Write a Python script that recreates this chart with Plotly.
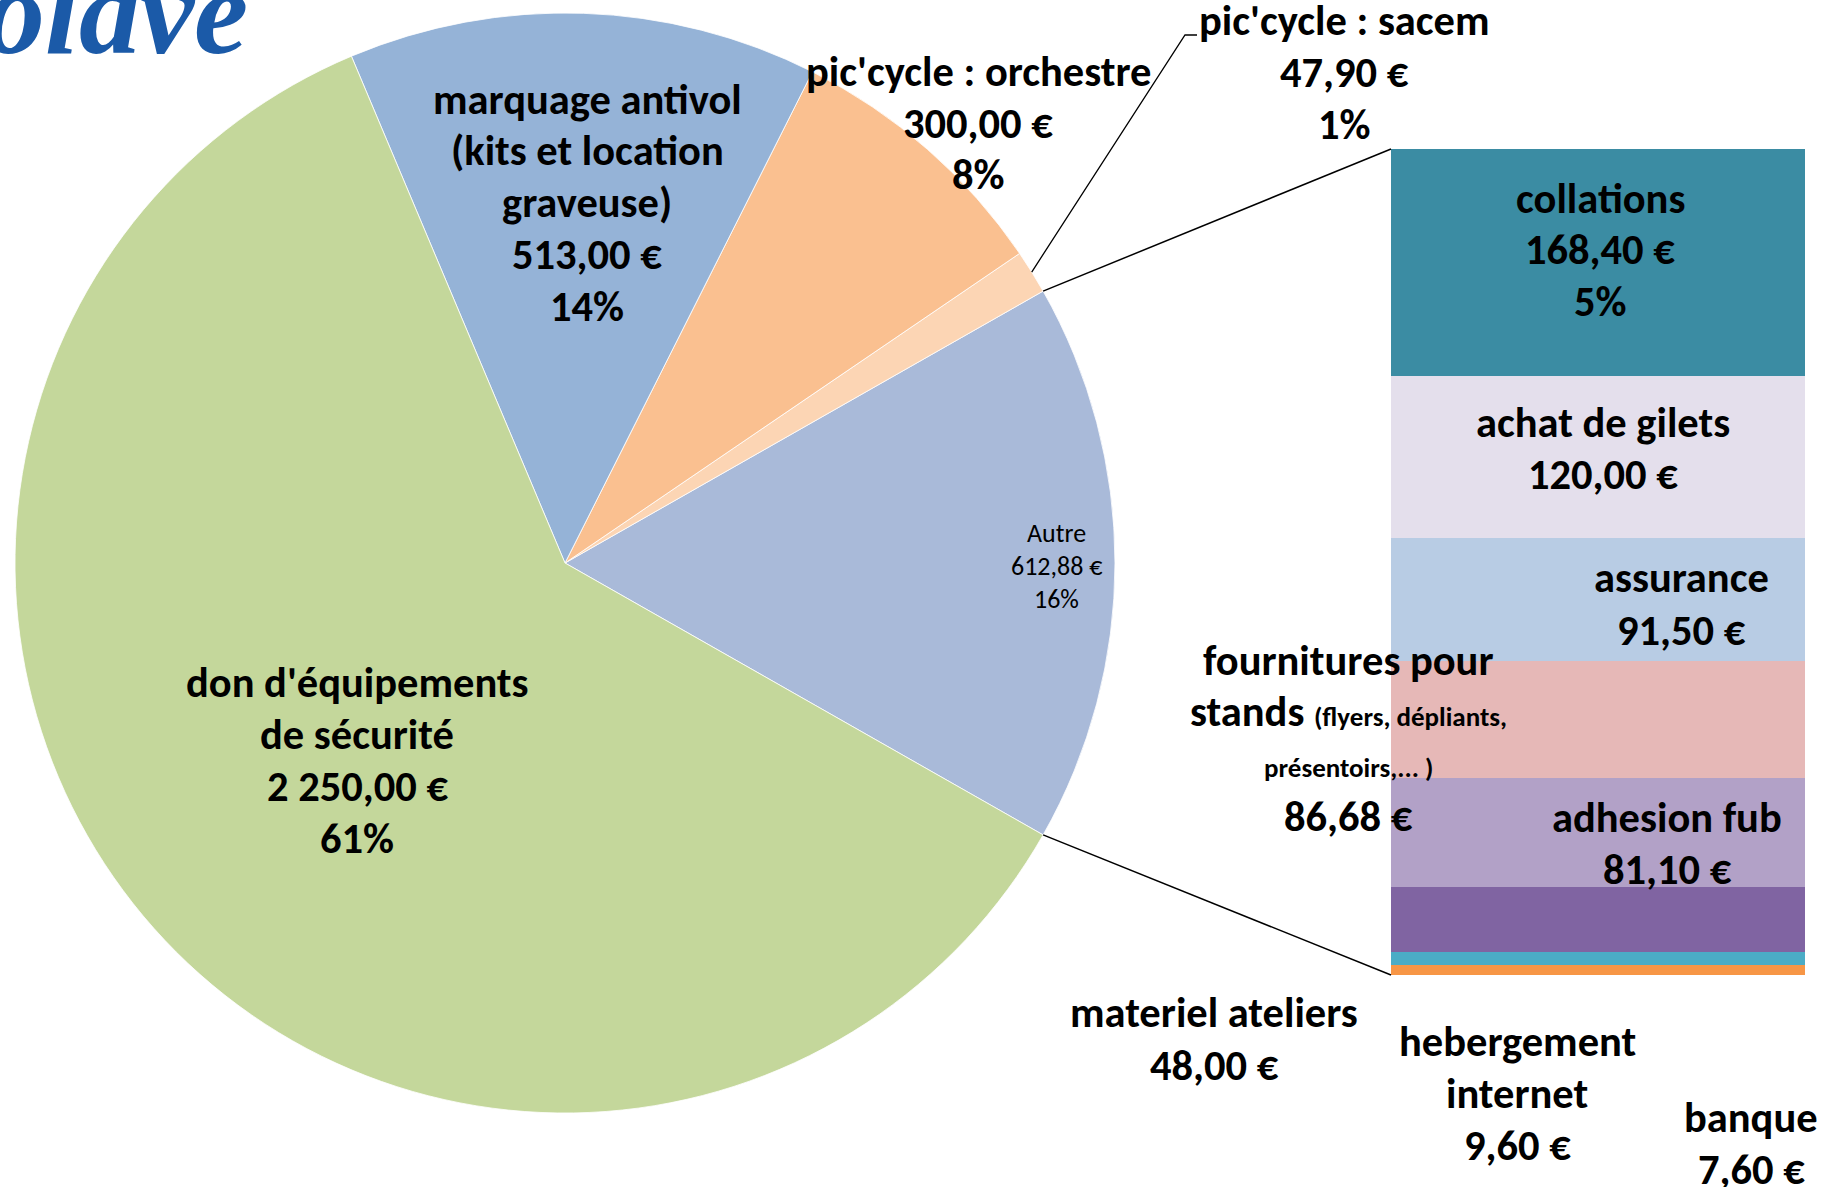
"""Pie-of-bar chart of expenses, rebuilt with plotly."""
import math
import plotly.graph_objects as go

W, H = 1825, 1187

# breakdown of the "Autre" slice, shown as the stacked bar
bar_labels = ["collations", "achat de gilets", "assurance", "fournitures pour stands",
              "adhesion fub", "materiel ateliers", "hebergement internet", "banque"]
bar_values = [168.40, 120.00, 91.50, 86.68, 81.10, 48.00, 9.60, 7.60]
bar_colors = ["#3B8CA3", "#E4DFEC", "#B8CCE4", "#E6B8B7", "#B2A1C7", "#8064A2", "#4BACC6", "#F79646"]

# main pie (first slice "Autre" is the sum of the bar)
pie_labels = ["Autre", "pic'cycle : sacem", "pic'cycle : orchestre",
              "marquage antivol (kits et location graveuse)", "don d'équipements de sécurité"]
pie_values = [sum(bar_values), 47.90, 300.00, 513.00, 2250.00]
pie_pct = ["16%", "1%", "8%", "14%", "61%"]
pie_colors = ["#A9BAD9", "#FCD5B4", "#FAC090", "#95B3D7", "#C4D79B"]

FONT = "Carlito, Lato, sans-serif"


def euro(v):
    s = f"{v:,.2f}".replace(",", " ").replace(".", ",")
    return s + " €"


def px(x, y):
    return x / W, 1 - y / H


# geometry in pixels from the top-left corner
cx, cy, r = 565, 563, 550
bx0, bx1, by0, by1 = 1391, 1805, 149, 975

total = sum(pie_values)
half = math.pi * pie_values[0] / total

fig = go.Figure()
fig.add_trace(go.Pie(
    labels=pie_labels, values=pie_values, sort=False, direction="counterclockwise",
    rotation=90 - math.degrees(half),
    marker=dict(colors=pie_colors, line=dict(color="white", width=0.8)),
    textinfo="none", showlegend=False,
    domain=dict(x=[(cx - r) / W, (cx + r) / W], y=[1 - (cy + r) / H, 1 - (cy - r) / H]),
))

for lab, val, col in zip(bar_labels[::-1], bar_values[::-1], bar_colors[::-1]):
    fig.add_trace(go.Bar(x=[0], y=[val], name=lab, marker=dict(color=col, line=dict(width=0)),
                         width=1, xaxis="x2", yaxis="y2", showlegend=False))

ann = []


def label(x, y0, lines, size=42.5, weight="bold", step=52):
    # one annotation per line so the line spacing matches Excel's
    ys = y0 if isinstance(y0, list) else [y0 + i * step for i in range(len(lines))]
    for t, y in zip(lines, ys):
        xp, yp = px(x, y)
        ann.append(dict(x=xp, y=yp, xref="paper", yref="paper", text=t, showarrow=False,
                        xanchor="center", yanchor="middle",
                        font=dict(family=FONT, size=size, color="black", weight=weight)))


label(357, 682, ["don d'équipements", "de sécurité", euro(pie_values[4]), pie_pct[4]])
label(587, 99, ["marquage antivol", "(kits et location", "graveuse)", euro(pie_values[3]), pie_pct[3]])
label(978, 71, [pie_labels[2], euro(pie_values[2]), pie_pct[2]])
label(1344, 20, [pie_labels[1], euro(pie_values[1]), pie_pct[1]])
label(1056, 533, [pie_labels[0], euro(pie_values[0]), pie_pct[0]], size=26, weight="normal", step=33)

small = "<span style='font-size:27px'>%s</span>"
label(1600, 198, [bar_labels[0], euro(bar_values[0]), "5%"])
label(1603, 422, [bar_labels[1], euro(bar_values[1])])
label(1681, 578, [bar_labels[2], euro(bar_values[2])])
label(1348, [660, 711, 767, 816],
      ["fournitures pour", "stands " + small % "(flyers, dépliants,",
       small % "présentoirs,... )", euro(bar_values[3])])
label(1667, 817, [bar_labels[4], euro(bar_values[4])])
label(1214, 1013, [bar_labels[5], euro(bar_values[5])])
label(1517, 1041, ["hebergement", "internet", euro(bar_values[6])])
label(1751, 1117, [bar_labels[7], euro(bar_values[7])])

# logo fragment cut at the top-left corner
ann.append(dict(x=-18 / W, y=1 - 81 / H, xref="paper", yref="paper", text="olave",
                showarrow=False, xanchor="left", yanchor="bottom",
                font=dict(family="Liberation Serif", size=122, color="#1B5AA8",
                          weight="bold", style="italic")))

# leader lines between the pie and the bar
shapes = []
top = px(cx + r * math.cos(half), cy - r * math.sin(half))
bot = px(cx + r * math.cos(half), cy + r * math.sin(half))
for p, q in [(top, px(bx0, by0)), (bot, px(bx0, by1))]:
    shapes.append(dict(type="line", xref="paper", yref="paper", x0=p[0], y0=p[1], x1=q[0], y1=q[1],
                       line=dict(color="black", width=1.5)))

mid = half + math.pi * pie_values[1] / total
s0 = (cx + r * math.cos(mid), cy - r * math.sin(mid))
pts = [px(*s0), px(1185, 35), px(1197, 35)]
path = "M " + " L ".join(f"{a},{b}" for a, b in pts)
shapes.append(dict(type="path", xref="paper", yref="paper", path=path,
                   line=dict(color="black", width=1.3)))

fig.update_layout(
    width=W, height=H,
    margin=dict(l=0, r=0, t=0, b=0, pad=0),
    paper_bgcolor="white", plot_bgcolor="white",
    barmode="stack", bargap=0,
    xaxis2=dict(domain=[bx0 / W, bx1 / W], range=[-0.5, 0.5], visible=False, fixedrange=True),
    yaxis2=dict(domain=[1 - by1 / H, 1 - by0 / H], range=[0, sum(bar_values)], visible=False,
                anchor="x2", fixedrange=True),
    xaxis=dict(visible=False), yaxis=dict(visible=False),
    annotations=ann, shapes=shapes,
    font=dict(family=FONT),
)

fig.write_html("out.html", config={"displayModeBar": False},
               post_script="document.body.style.margin='0';document.body.style.overflow='hidden';")
